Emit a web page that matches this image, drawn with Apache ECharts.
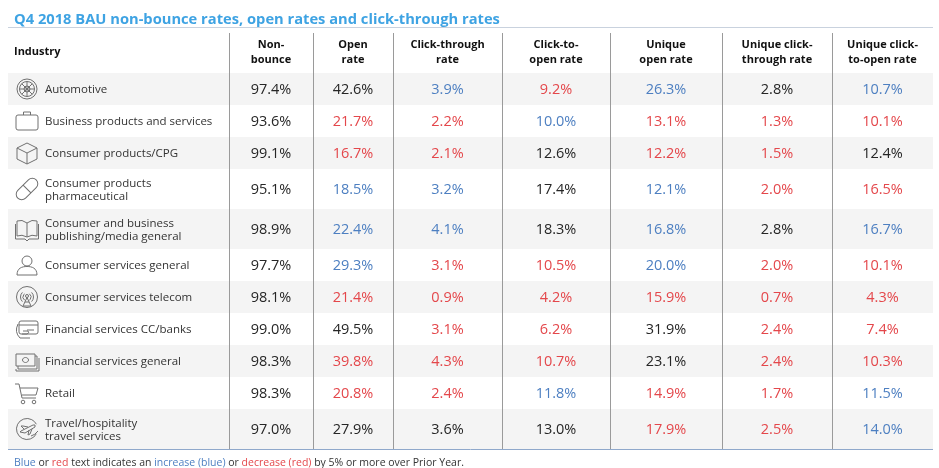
<!DOCTYPE html>
<html>
<head>
<meta charset="utf-8">
<script src="https://cdn.jsdelivr.net/npm/echarts@6/dist/echarts.min.js"></script>
<style>html,body{margin:0;padding:0;background:#fff;}#c{width:939px;height:468px;}</style>
</head>
<body>
<div id="c"></div>
<script>
// ---------- DATA ----------
var titleText = 'Q4 2018 BAU non-bounce rates, open rates and click-through rates';
var headers = ['Industry', 'Non-\nbounce', 'Open\nrate', 'Click-through\nrate', 'Click-to-\nopen rate', 'Unique\nopen rate', 'Unique click-\nthrough rate', 'Unique click-\nto-open rate'];
var industries = [
  'Automotive',
  'Business products and services',
  'Consumer products/CPG',
  'Consumer products\npharmaceutical',
  'Consumer and business\npublishing/media general',
  'Consumer services general',
  'Consumer services telecom',
  'Financial services CC/banks',
  'Financial services general',
  'Retail',
  'Travel/hospitality\ntravel services'
];
var iconKeys = ['wheel', 'briefcase', 'cube', 'capsule', 'book', 'person', 'antenna', 'card', 'cash', 'cart', 'plane'];
var nonBounce = [97.4, 93.6, 99.1, 95.1, 98.9, 97.7, 98.1, 99.0, 98.3, 98.3, 97.0];
var openRate = [42.6, 21.7, 16.7, 18.5, 22.4, 29.3, 21.4, 49.5, 39.8, 20.8, 27.9];
var clickThrough = [3.9, 2.2, 2.1, 3.2, 4.1, 3.1, 0.9, 3.1, 4.3, 2.4, 3.6];
var clickToOpen = [9.2, 10.0, 12.6, 17.4, 18.3, 10.5, 4.2, 6.2, 10.7, 11.8, 13.0];
var uniqueOpen = [26.3, 13.1, 12.2, 12.1, 16.8, 20.0, 15.9, 31.9, 23.1, 14.9, 17.9];
var uniqueClickThrough = [2.8, 1.3, 1.5, 2.0, 2.8, 2.0, 0.7, 2.4, 2.4, 1.7, 2.5];
var uniqueClickToOpen = [10.7, 10.1, 12.4, 16.5, 16.7, 10.1, 4.3, 7.4, 10.3, 11.5, 14.0];
// change vs prior year: u = increase (blue), d = decrease (red), n = none
var nonBounceChg = ['n','n','n','n','n','n','n','n','n','n','n'];
var openRateChg = ['n','d','d','u','u','u','d','n','d','d','n'];
var clickThroughChg = ['u','d','d','u','u','d','d','d','d','d','n'];
var clickToOpenChg = ['d','u','n','n','n','d','d','d','d','u','n'];
var uniqueOpenChg = ['u','d','d','u','u','u','d','n','n','d','d'];
var uniqueClickThroughChg = ['n','d','d','d','n','d','d','d','d','d','d'];
var uniqueClickToOpenChg = ['u','d','n','d','u','d','d','d','d','u','u'];
var footnote = [['Blue','u'],[' or ','n'],['red','d'],[' text indicates an ','n'],['increase (blue)','u'],[' or ','n'],['decrease (red)','d'],[' by 5% or more over Prior Year.','n']];

// ---------- LAYOUT / STYLE ----------
var valueCols = [nonBounce, openRate, clickThrough, clickToOpen, uniqueOpen, uniqueClickThrough, uniqueClickToOpen];
var chgCols = [nonBounceChg, openRateChg, clickThroughChg, clickToOpenChg, uniqueOpenChg, uniqueClickThroughChg, uniqueClickToOpenChg];
var colEdges = [0, 221, 305, 385, 494, 602, 714, 824, 925];
var HEADER_H = 45, ROW_H = 32, ROW2_H = 40;
var FONT = '"Open Sans", "Noto Sans", sans-serif';
var COLORS = { u: '#4d7fc1', d: '#e4474b', n: '#262626' };
var BAND = '#f4f4f4';
var ICON = '#707070';

var rowTops = [0], rowHeights = [HEADER_H];
industries.forEach(function (name) {
  rowTops.push(rowTops[rowTops.length - 1] + rowHeights[rowHeights.length - 1]);
  rowHeights.push(name.indexOf('\n') >= 0 ? ROW2_H : ROW_H);
});
var totalH = rowTops[rowTops.length - 1] + rowHeights[rowHeights.length - 1];
var seriesData = rowTops.map(function (t, i) { return [i, t, t + rowHeights[i]]; });

function iconShapes(key) {
  var s = { fill: 'none', stroke: ICON, lineWidth: 1 };
  function P(d) { return { type: 'path', shape: { pathData: d }, style: s }; }
  function C(cx, cy, r) { return { type: 'circle', shape: { cx: cx, cy: cy, r: r }, style: s }; }
  function A(r, a0, a1) { return { type: 'arc', shape: { cx: 0, cy: 0, r: r, startAngle: a0, endAngle: a1 }, style: s }; }
  switch (key) {
    case 'wheel': return [C(0, 0, 10), C(0, 0, 7.5), C(0, 0, 3), P('M0 -7.5 L0 7.5 M-7.5 0 L7.5 0 M-5.3 -5.3 L5.3 5.3 M-5.3 5.3 L5.3 -5.3')];
    case 'briefcase': return [{ type: 'rect', shape: { x: -11, y: -6, width: 22, height: 15, r: 2 }, style: s }, P('M-3.5 -6 L-3.5 -9 L3.5 -9 L3.5 -6')];
    case 'cube': return [P('M0 -10 L10 -5 L10 6 L0 11 L-10 6 L-10 -5 Z M-10 -5 L0 0 L10 -5 M0 0 L0 11')];
    case 'capsule': return [{ type: 'group', rotation: Math.PI / 4, children: [{ type: 'rect', shape: { x: -13, y: -5.5, width: 26, height: 11, r: 5.5 }, style: s }, P('M0 -5.5 L0 5.5')] }];
    case 'book': return [P('M0 -6 Q-5 -10 -10 -8 L-10 7 Q-5 5 0 8 Q5 5 10 7 L10 -8 Q5 -10 0 -6 Z M0 -6 L0 8'), P('M-11.5 -5 L-11.5 10 L-2 10 L0 12 L2 10 L11.5 10 L11.5 -5')];
    case 'person': return [C(0, -4, 5), P('M-10 10 C-10 3 -5 1.5 0 1.5 C5 1.5 10 3 10 10 Z')];
    case 'antenna': return [C(0, 0, 10.5), A(6.5, Math.PI * 0.75, Math.PI * 1.25), A(6.5, -Math.PI * 0.25, Math.PI * 0.25), A(4, Math.PI * 0.7, Math.PI * 1.3), A(4, -Math.PI * 0.3, Math.PI * 0.3), C(0, -1, 1.5), P('M-4 9 L0 0.5 L4 9 Z M-2 5 L2 5')];
    case 'card': return [{ type: 'rect', shape: { x: -8, y: -8, width: 19, height: 13, r: 2 }, style: s }, P('M-8 -4 L11 -4 M0 1 L7 1'), P('M-9 -5 Q-13 3 -7 9 L3 9 M-4 2 L1 2 Q3 4 0 5 L-5 5')];
    case 'cash': return [{ type: 'rect', shape: { x: -11, y: -7, width: 19, height: 12 }, style: s }, P('M-9 5 L-9 8 L10 8 L10 -5 L8 -5 M-11 8 L-11 10 L12 10 L12 -3'), { type: 'ellipse', shape: { cx: -1.5, cy: -1, rx: 3, ry: 2.5 }, style: s }];
    case 'cart': return [P('M-12 -9 L-8 -9 L-5 5 L9 5 M-7 -5 L11 -5 L9 2 L-5 2'), C(-4, 9, 1.8), C(7, 9, 1.8)];
    case 'plane': return [A(10.5, Math.PI * 0.15, Math.PI * 1.85), P('M-6 2 L6 -4 Q9 -5 8 -2 L-2 4 L-7 3 Z M-3 0 L-6 -3 L-4 -3 L1 -2 M2 1 L1 6 L3 5 L5 0'), P('M4 7 Q8 6 11 2')];
  }
  return [];
}

var chart = echarts.init(document.getElementById('c'), null, { renderer: 'canvas' });

function renderItem(params, api) {
  var idx = api.value(0), top = api.value(1), bottom = api.value(2);
  var children = [];
  var tl = api.coord([colEdges[0], top]);
  var br = api.coord([colEdges[colEdges.length - 1], bottom]);
  var midY = (tl[1] + br[1]) / 2;
  if (idx > 0 && idx % 2 === 1) {
    children.push({ type: 'rect', shape: { x: tl[0], y: tl[1], width: br[0] - tl[0], height: br[1] - tl[1] }, style: { fill: BAND } });
  }
  // vertical separators
  for (var c = 1; c < colEdges.length - 1; c++) {
    var px = Math.round(api.coord([colEdges[c], top])[0]) + 0.5;
    children.push({ type: 'line', shape: { x1: px, y1: tl[1] + (idx === 0 ? 5 : 0), x2: px, y2: br[1] }, style: { stroke: '#9a9a9a', lineWidth: 1 } });
  }
  if (idx === 0) {
    children.push({ type: 'line', shape: { x1: tl[0], y1: Math.round(tl[1]) - 0.5, x2: br[0], y2: Math.round(tl[1]) - 0.5 }, style: { stroke: '#c9d2de', lineWidth: 1 } });
    children.push({ type: 'line', shape: { x1: tl[0], y1: Math.round(br[1]) + 0.5, x2: br[0], y2: Math.round(br[1]) + 0.5 }, style: { stroke: '#7e9bc3', lineWidth: 1 } });
    var hx0 = api.coord([colEdges[0] + 6, top])[0];
    children.push({ type: 'text', style: { text: headers[0], x: hx0, y: midY + 1, align: 'left', verticalAlign: 'middle', fontFamily: FONT, fontSize: 11, fontWeight: 'bold', fill: '#111' } });
    for (var h = 1; h < headers.length; h++) {
      var cx = (api.coord([colEdges[h], top])[0] + api.coord([colEdges[h + 1], top])[0]) / 2;
      children.push({ type: 'text', style: { text: headers[h], x: cx, y: midY + 2, align: 'center', verticalAlign: 'middle', fontFamily: FONT, fontSize: 11, fontWeight: 'bold', lineHeight: 15, fill: '#111' } });
    }
  } else {
    var r = idx - 1;
    if (r === industries.length - 1) {
      children.push({ type: 'line', shape: { x1: tl[0], y1: Math.round(br[1]) + 0.5, x2: br[0], y2: Math.round(br[1]) + 0.5 }, style: { stroke: '#8fa8cb', lineWidth: 1 } });
    }
    var ix = api.coord([colEdges[0] + 19, top])[0];
    children.push({ type: 'group', x: ix, y: midY, children: iconShapes(iconKeys[r]) });
    var tx = api.coord([colEdges[0] + 37, top])[0];
    children.push({ type: 'text', style: { text: industries[r], x: tx, y: midY + 1, align: 'left', verticalAlign: 'middle', fontFamily: FONT, fontSize: 11.5, lineHeight: 13, fill: '#333' } });
    for (var k = 0; k < valueCols.length; k++) {
      var vx = (api.coord([colEdges[k + 1], top])[0] + api.coord([colEdges[k + 2], top])[0]) / 2;
      children.push({ type: 'text', style: { text: valueCols[k][r].toFixed(1) + '%', x: vx, y: midY + 1, align: 'center', verticalAlign: 'middle', fontFamily: FONT, fontSize: 14.5, fill: COLORS[chgCols[k][r]] } });
    }
  }
  return { type: 'group', children: children };
}

var footRich = {};
var footStr = footnote.map(function (p, i) {
  footRich['s' + i] = { color: p[1] === 'n' ? '#333' : COLORS[p[1]], fontFamily: FONT, fontSize: 10.5, fontWeight: 'normal' };
  return '{s' + i + '|' + p[0] + '}';
}).join('');

chart.setOption({
  animation: false,
  title: [
    { text: titleText, left: 9, top: 7, textStyle: { color: '#3ea3e3', fontFamily: FONT, fontSize: 14.7, fontWeight: 'bold' } },
    { text: footStr, left: 9, top: 453, textStyle: { fontWeight: 'normal', fontSize: 10.5, rich: footRich } }
  ],
  grid: { left: 8, right: 6, top: 28, bottom: 468 - 28 - totalH },
  xAxis: { type: 'value', min: 0, max: colEdges[colEdges.length - 1], show: false },
  yAxis: { type: 'value', min: 0, max: totalH, inverse: true, show: false },
  series: [{
    type: 'custom',
    renderItem: renderItem,
    data: seriesData,
    encode: { x: -1, y: [1, 2] },
    clip: false
  }]
});
</script>
</body>
</html>
